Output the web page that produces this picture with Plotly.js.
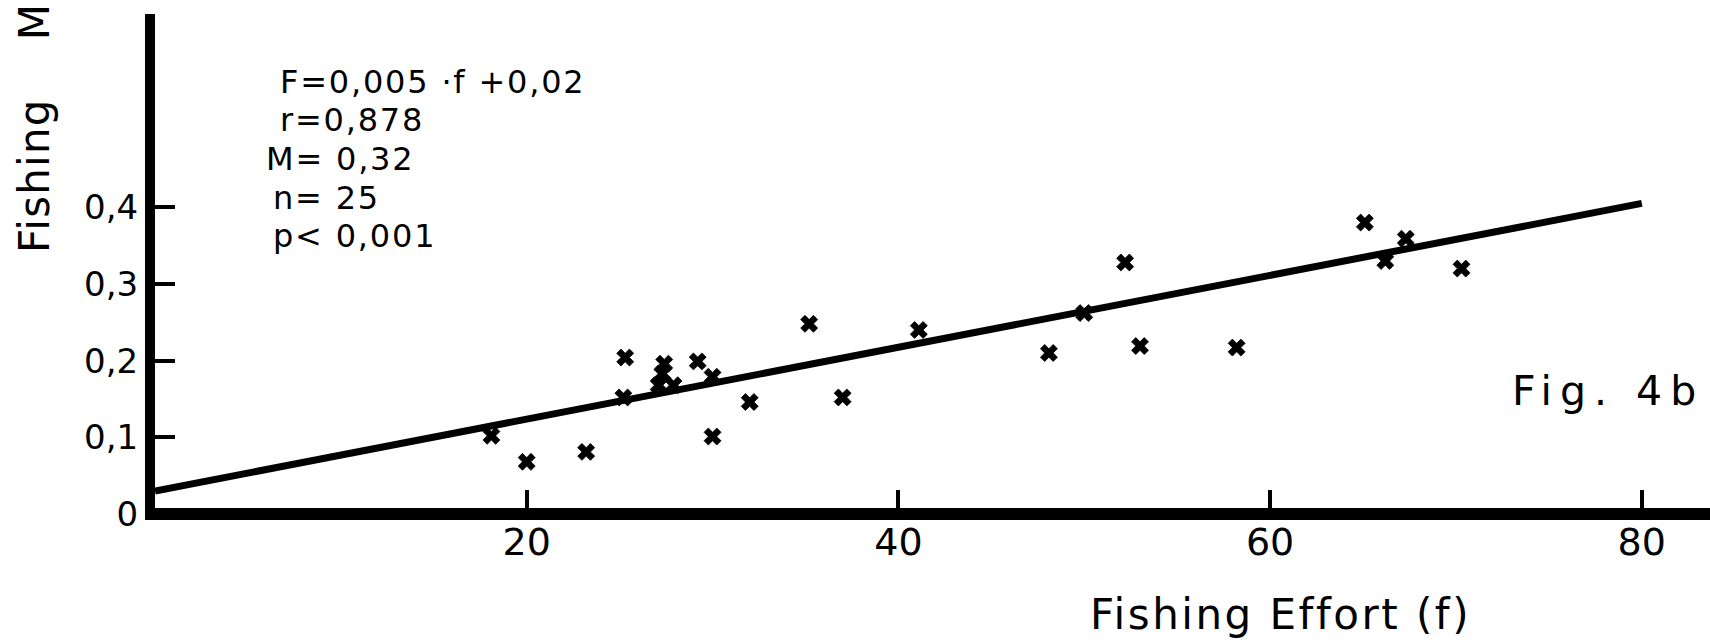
<!DOCTYPE html>
<html>
<head>
<meta charset="utf-8">
<script src="https://cdn.plot.ly/plotly-3.0.1.min.js"></script>
<style>
  html, body { margin: 0; padding: 0; background: #ffffff; }
  #chart { width: 1710px; height: 641px; }
</style>
</head>
<body>
<div id="chart"></div>
<script>
// ---- data ----
const effort = [18.1, 20.0, 23.2, 25.3, 25.2, 27.4, 27.3, 27.1, 27.9, 29.2, 30.0, 30.0, 32.0,
                35.2, 37.0, 41.1, 48.1, 50.0, 52.2, 53.0, 58.2, 65.1, 66.2, 67.3, 70.3];
const mortality = [0.102, 0.068, 0.081, 0.204, 0.152, 0.196, 0.183, 0.168, 0.168, 0.199, 0.179, 0.101, 0.146,
                   0.248, 0.152, 0.240, 0.210, 0.262, 0.328, 0.219, 0.217, 0.380, 0.330, 0.359, 0.320];
const fitX = [0, 80];
const fitY = [0.03, 0.405];
const xTickVals = [20, 40, 60, 80];
const xTickText = ["20", "40", "60", "80"];
const yTickVals = [0, 0.1, 0.2, 0.3, 0.4];
const yTickText = ["0", "0,1", "0,2", "0,3", "0,4"];
const statsLines = ["F=0,005 ·f +0,02", "r=0,878", "M= 0,32", "n= 25", "p< 0,001"];
const xTitle = "Fishing Effort (f)";
const yTitle = "Fishing\u00a0\u00a0\u00a0\u00a0M";
const figLabel = "Fig.\u00a04b";

// ---- layout helpers (pixel -> paper) ----
const L = 155, T = 14, W = 1555, H = 500;
const px = v => (v - L) / W;
const py = v => (T + H - v) / H;
const statsPos = [[278, 82], [278, 120.5], [264, 159], [271, 197.5], [271, 236]];
const spaced = (t, s) => '<span style="letter-spacing:' + s + 'px">' + t + '</span>';

const font = "DejaVu Sans, Liberation Sans, Arial, sans-serif";

const traces = [
  {
    x: fitX, y: fitY, type: "scatter", mode: "lines",
    line: { color: "#000000", width: 7 },
    hoverinfo: "skip"
  },
  {
    x: effort, y: mortality, type: "scatter", mode: "markers",
    marker: { symbol: "x", size: 15, color: "#000000", line: { width: 0.8, color: "#000000" } }
  }
];

const annotations = statsLines.map((t, i) => ({
  text: spaced(t, 1.8), xref: "paper", yref: "paper",
  x: px(statsPos[i][0]), y: py(statsPos[i][1]),
  xanchor: "left", yanchor: "middle", showarrow: false,
  font: { family: font, size: 32, color: "#000000" }
}));
annotations.push({
  text: spaced(xTitle, 2.5), xref: "paper", yref: "paper",
  x: px(1280), y: py(614), xanchor: "center", yanchor: "middle", showarrow: false,
  font: { family: font, size: 42, color: "#000000" }
});
annotations.push({
  text: spaced(yTitle, 1.2), xref: "paper", yref: "paper",
  x: px(35), y: py(128), xanchor: "center", yanchor: "middle", showarrow: false,
  textangle: -90,
  font: { family: font, size: 42, color: "#000000" }
});
annotations.push({
  text: spaced(figLabel, 8), xref: "paper", yref: "paper",
  x: px(1608), y: py(391), xanchor: "center", yanchor: "middle", showarrow: false,
  font: { family: font, size: 41, color: "#000000" }
});

const layout = {
  width: 1710, height: 641,
  margin: { l: L, r: 0, t: T, b: 641 - T - H, pad: 0 },
  paper_bgcolor: "#ffffff", plot_bgcolor: "#ffffff",
  showlegend: false,
  xaxis: {
    range: [0, 83.67], showgrid: false, zeroline: false,
    showline: false,
    ticks: "inside", ticklen: 24, tickwidth: 4, tickcolor: "#000000",
    tickvals: xTickVals, ticktext: xTickText,
    ticklabelstandoff: 2,
    tickfont: { family: font, size: 38, color: "#000000" },
    fixedrange: true
  },
  yaxis: {
    range: [0, 0.652], showgrid: false, zeroline: false,
    showline: true, linewidth: 10, linecolor: "#000000",
    ticks: "inside", ticklen: 20, tickwidth: 4, tickcolor: "#000000",
    tickvals: yTickVals, ticktext: yTickText,
    tickfont: { family: font, size: 34, color: "#000000" },
    fixedrange: true
  },
  shapes: [
    { type: "line", xref: "paper", yref: "paper", x0: -10 / W, x1: 1, y0: 0, y1: 0,
      line: { color: "#000000", width: 12 }, layer: "above" }
  ],
  annotations: annotations
};

Plotly.newPlot("chart", traces, layout, { displayModeBar: false, staticPlot: true });
</script>
</body>
</html>
